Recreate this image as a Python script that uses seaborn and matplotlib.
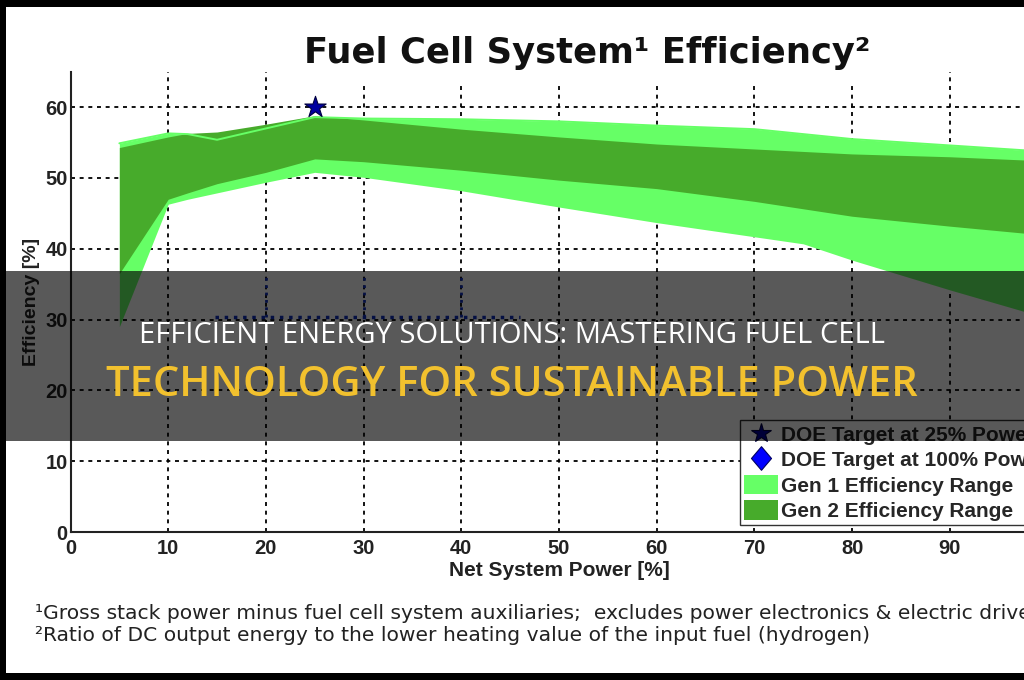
import numpy as np
import pandas as pd
import matplotlib
matplotlib.use("Agg")
import matplotlib.pyplot as plt
from matplotlib.patches import Rectangle, Patch
from matplotlib.lines import Line2D
from matplotlib.path import Path
import seaborn as sns

# ---------------- data ----------------
power = [5, 10, 12, 15, 20, 25, 30, 40, 50, 60, 70, 75, 80, 90, 100]
gen1_upper = [54.9, 56.3, 56.2, 55.4, 57.0, 58.6, 58.4, 58.3, 58.0, 57.4, 56.9, 56.2, 55.5, 54.6, 53.7]
gen1_lower = [29.0, 46.3, 47.0, 47.9, 49.4, 50.8, 50.1, 48.2, 45.9, 43.7, 41.7, 40.7, 38.4, 34.2, 30.2]
gen2_upper = [54.3, 55.8, 56.3, 56.5, 57.6, 58.8, 58.2, 56.9, 55.8, 54.8, 54.1, 53.75, 53.4, 53.0, 52.4]
gen2_lower = [36.5, 47.0, 47.9, 49.2, 50.8, 52.7, 52.3, 51.1, 49.7, 48.5, 46.7, 45.65, 44.6, 43.2, 41.9]

target_power = [25, 100]
target_eff = [60, 50]
target_labels = ["DOE Target at 25% Power", "DOE Target at 100% Power"]
range_labels = ["Gen 1 Efficiency Range", "Gen 2 Efficiency Range"]

x_ticks = [0, 10, 20, 30, 40, 50, 60, 70, 80, 90]
y_ticks = [0, 10, 20, 30, 40, 50, 60]

title = "Fuel Cell System\u00b9 Efficiency\u00b2"
xlabel = "Net System Power [%]"
ylabel = "Efficiency [%]"
note1 = "\u00b9Gross stack power minus fuel cell system auxiliaries;  excludes power electronics & electric drive"
note2 = "\u00b2Ratio of DC output energy to the lower heating value of the input fuel (hydrogen)"
banner1 = "EFFICIENT ENERGY SOLUTIONS: MASTERING FUEL CELL"
banner2 = "TECHNOLOGY FOR SUSTAINABLE POWER"

# hidden dotted marks under the banner
hidden_x = [14.8, 46]
hidden_y = [30.3, 30.3]

df = pd.DataFrame({"power": power, "g1u": gen1_upper, "g1l": gen1_lower,
                   "g2u": gen2_upper, "g2l": gen2_lower})

# ---------------- style ----------------
sns.set_theme(style="white")
plt.rcParams["font.family"] = ["Liberation Sans", "DejaVu Sans"]

LIGHT = "#66FF66"
DARK = "#47AB2B"

W, H = 1024, 680
fig = plt.figure(figsize=(W / 100, H / 100), dpi=100)
fig.patch.set_facecolor("white")

x0_px, x100_px = 70.5, 1047.5
y0_px, ytop_px = 532, 71.8
ax = fig.add_axes([x0_px / W, (H - y0_px) / H, (x100_px - x0_px) / W, (y0_px - ytop_px) / H])
ax.set_facecolor("white")

# grid
ax.set_axisbelow(True)
ax.grid(True, color="black", linestyle=(0, (2.2, 2.6)), linewidth=1.3)

# bands
ax.fill_between(df["power"], df["g1l"], df["g1u"], color=LIGHT, linewidth=0, zorder=2)
ax.fill_between(df["power"], df["g2l"], df["g2u"], color=DARK, linewidth=0, zorder=3)
sns.lineplot(data=df, x="power", y="g1u", ax=ax, color=LIGHT, linewidth=1.4, zorder=4,
             legend=False, estimator=None, sort=False)

# hidden navy dotted line (under the banner)
ax.plot(hidden_x, hidden_y, color="#1030c0", linestyle=":", linewidth=2.5, zorder=1)
for xv in [20, 30, 40]:
    ax.plot([xv, xv], [30.3, 36.5], color="#1030c0", linestyle=":", linewidth=2.0, zorder=1)

# targets
diamond = Path([(0, 1), (0.85, 0), (0, -1), (-0.85, 0), (0, 1)],
               [Path.MOVETO, Path.LINETO, Path.LINETO, Path.LINETO, Path.CLOSEPOLY])
sns.scatterplot(x=[target_power[0]], y=[target_eff[0]], ax=ax, marker="*", s=260,
                color="#0000A0", edgecolor="#000040", linewidth=0.8, zorder=6, clip_on=False)
sns.scatterplot(x=[target_power[1]], y=[target_eff[1]], ax=ax, marker=diamond, s=260,
                color="#0000FF", edgecolor="#000060", linewidth=0.8, zorder=6, clip_on=False)

ax.set_xlim(0, 100)
ax.set_ylim(0, 65)
ax.set_xticks(x_ticks)
ax.set_yticks(y_ticks)
ax.set_xticklabels([str(v) for v in x_ticks])
ax.set_yticklabels([str(v) for v in y_ticks])
ax.tick_params(axis="both", direction="in", length=6, width=1.2, color="black",
               labelsize=14.5, labelcolor="#222222")
ax.tick_params(axis="x", pad=5)
ax.tick_params(axis="y", pad=2)
for lbl in ax.get_xticklabels() + ax.get_yticklabels():
    lbl.set_fontweight("bold")

for side in ["top", "right"]:
    ax.spines[side].set_visible(False)
for side in ["left", "bottom"]:
    ax.spines[side].set_color("#222222")
    ax.spines[side].set_linewidth(1.5)

ax.set_xlabel(xlabel, fontsize=15, fontweight="bold", color="#222222", labelpad=2)
ax.set_ylabel(ylabel, fontsize=14, fontweight="bold", color="#222222", labelpad=4)

# legend
handles = [
    Line2D([], [], linestyle="none", marker="*", markersize=15, markerfacecolor="#0000A0",
           markeredgecolor="#000040", markeredgewidth=0.8),
    Line2D([], [], linestyle="none", marker=diamond, markersize=17, markerfacecolor="#0000FF",
           markeredgecolor="#000060", markeredgewidth=0.8),
    Patch(facecolor=LIGHT, edgecolor="none"),
    Patch(facecolor=DARK, edgecolor="none"),
]
leg = ax.legend(handles, target_labels + range_labels, loc="upper left",
                bbox_to_anchor=(740 / W, 1 - 420 / H), bbox_transform=fig.transFigure,
                frameon=True, fancybox=False, framealpha=1, edgecolor="#333333",
                borderpad=0.2, labelspacing=0.22, handlelength=1.6, handleheight=1.05,
                handletextpad=0.15, borderaxespad=0,
                prop={"weight": "bold", "size": 15})
leg.get_frame().set_linewidth(1.0)
leg.set_zorder(8)

# title with white box
fig.text(587 / W, 1 - 63 / H, title, ha="center", va="baseline", fontsize=25.5,
         fontweight="bold", color="#111111", family=["DejaVu Sans"],
         bbox=dict(facecolor="white", edgecolor="none", pad=9))

# footnotes
fig.text(35 / W, 1 - 619 / H, note1, ha="left", va="baseline", fontsize=14.6,
         color="#222222", family=["DejaVu Sans"])
fig.text(35 / W, 1 - 641 / H, note2, ha="left", va="baseline", fontsize=14.6,
         color="#222222", family=["DejaVu Sans"])

# black frame (left, top, bottom)
for rect in [(0, 0, 6 / W, 1), (0, 1 - 7 / H, 1, 7 / H), (0, 0, 1, 7 / H)]:
    fig.add_artist(Rectangle(rect[:2], rect[2], rect[3], transform=fig.transFigure,
                             facecolor="black", edgecolor="none", zorder=20))

# banner overlay
fig.add_artist(Rectangle((0, 1 - 441 / H), 1, (441 - 271) / H, transform=fig.transFigure,
                         facecolor="black", edgecolor="none", alpha=0.65, zorder=30))
fig.text(0.5, 1 - 343 / H, banner1, ha="center", va="baseline", fontsize=21,
         color="white", family=["Open Sans", "DejaVu Sans"], zorder=31)
fig.text(0.5, 1 - 396 / H, banner2, ha="center", va="baseline", fontsize=30,
         color="#F2C12E", family=["Open Sans", "DejaVu Sans"], fontweight="semibold", zorder=31)

fig.savefig("out.png", dpi=100)
